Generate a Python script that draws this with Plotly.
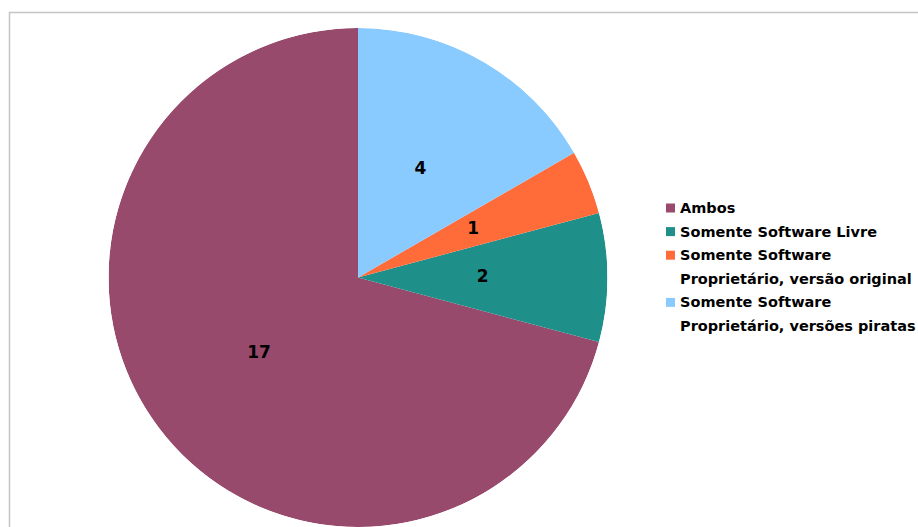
import plotly.graph_objects as go

# Survey answers: which kind of software is used
categories = [
    "Ambos",
    "Somente Software Livre",
    "Somente Software<br>Proprietário, versão original",
    "Somente Software<br>Proprietário, versões piratas",
]
counts = [17, 2, 1, 4]
colors = ["#984a6c", "#1e8f89", "#ff6c3a", "#8acbff"]

W, H = 918, 527
cx, cy, r = 358, 277.5, 249.5  # pie centre and radius in pixels
domain = dict(
    x=[(cx - r) / W, (cx + r) / W],
    y=[1 - (cy + r) / H, 1 - (cy - r) / H],
)

FONT = "DejaVu Sans, Liberation Sans, Arial"

# Slice geometry in degrees, counter-clockwise from 12 o'clock
total = sum(counts)
spans = [360.0 * v / total for v in counts]
mids = []
acc = 0.0
for s in spans:
    mids.append(acc + s / 2)
    acc += s

fig = go.Figure()

# Pie slices as full-radius polar wedges
fig.add_trace(
    go.Barpolar(
        r=[1] * len(counts),
        theta=mids,
        width=spans,
        base=0,
        marker=dict(color=colors, line=dict(width=0)),
        customdata=categories,
        text=[str(v) for v in counts],
        hovertemplate="%{customdata}: %{text}<extra></extra>",
        showlegend=False,
    )
)

# Value labels at half radius along each slice's mid-angle
fig.add_trace(
    go.Scatterpolar(
        r=[0.5] * len(counts),
        theta=mids,
        mode="text",
        text=[str(v) for v in counts],
        textfont=dict(family=FONT, size=17, color="black", weight="bold"),
        hoverinfo="skip",
        showlegend=False,
    )
)

fig.update_layout(
    polar=dict(
        domain=domain,
        bgcolor="rgba(0,0,0,0)",
        bargap=0,
        hole=0,
        radialaxis=dict(range=[0, 1], visible=False, showgrid=False),
        angularaxis=dict(
            rotation=90, direction="counterclockwise",
            visible=False, showgrid=False, showline=False,
        ),
    )
)

# Chart frame
fig.add_shape(
    type="rect", xref="paper", yref="paper",
    x0=9.5 / W, x1=1.05, y0=-0.05, y1=1 - 12.5 / H,
    line=dict(color="#c4c4c4", width=1.5), layer="below",
)

# Legend: colour key squares with wrapped category names
leg_x, leg_y0, row_h, key = 666, 208, 23.6, 9
row = 0
for name, col in zip(categories, colors):
    y = leg_y0 + row * row_h
    fig.add_shape(
        type="rect", xref="paper", yref="paper",
        x0=leg_x / W, x1=(leg_x + key) / W,
        y0=1 - (y + key / 2) / H, y1=1 - (y - key / 2) / H,
        fillcolor=col, line=dict(width=0),
    )
    for line in name.split("<br>"):
        yl = leg_y0 + row * row_h
        fig.add_annotation(
            x=(leg_x + 12) / W, y=1 - yl / H, xref="paper", yref="paper",
            xanchor="left", yanchor="middle", showarrow=False,
            text=line,
            font=dict(family=FONT, size=14.5, color="black", weight="bold"),
        )
        row += 1

fig.update_layout(
    width=W, height=H,
    margin=dict(l=0, r=0, t=0, b=0),
    paper_bgcolor="white",
    plot_bgcolor="white",
    showlegend=False,
)

fig.write_html("out.html")
